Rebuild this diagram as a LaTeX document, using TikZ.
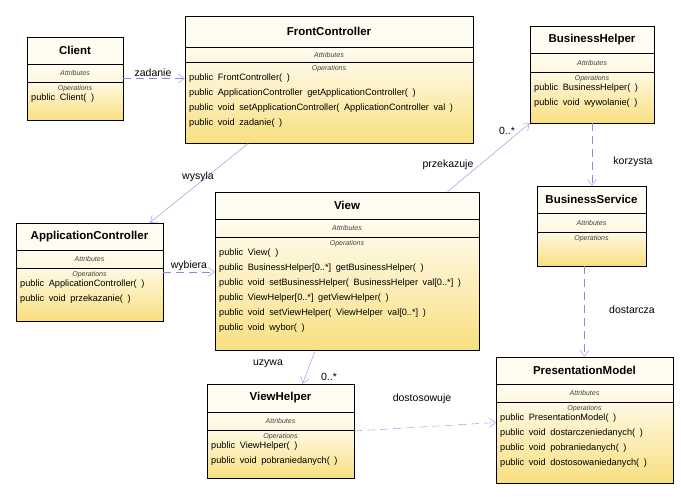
\documentclass[tikz,border=0pt]{standalone}
\usepackage{fontspec}
\setmainfont{Liberation Sans}
\newfontfamily\opfont[WordSpace=1.8]{Liberation Sans}
\usetikzlibrary{fit}
\usetikzlibrary{calc}
\usetikzlibrary{arrows.meta}
\definecolor{headcream}{RGB}{255,253,241}
\definecolor{attrcream}{RGB}{254,247,222}
\definecolor{opstop}{RGB}{255,249,228}
\definecolor{opsbottom}{RGB}{248,223,128}
\definecolor{linkblue}{RGB}{138,138,228}
\tikzstyle{classbox}=[draw, line width=0.8pt, inner sep=0pt]
\tikzstyle{classtitle}=[font=\bfseries\fontsize{11.5}{13}\selectfont]
\tikzstyle{partlabel}=[font=\itshape\fontsize{7}{8}\selectfont, text=black!75, inner sep=0pt]
\tikzstyle{opline}=[font=\opfont\fontsize{9.2}{10}\selectfont, inner sep=0pt, anchor=west]
\tikzstyle{link}=[draw=linkblue, thin, -{Straight Barb[length=6pt,width=9pt]}]
\tikzstyle{dep}=[link, dash pattern=on 8pt off 5pt]
\tikzstyle{linklabel}=[font=\fontsize{10.5}{12}\selectfont, inner sep=1pt]

% name, left, top, right, bottom, title rule, attribute rule, title, operations
\newcommand{\umlclass}[9]{%
  \fill[headcream] (#2,#3) rectangle (#4,#6);
  \shade[top color=headcream, bottom color=attrcream] (#2,#6) rectangle (#4,#7);
  \shade[top color=opstop, bottom color=opsbottom] (#2,#7) rectangle (#4,#5);
  \draw[line width=0.8pt] (#2,#6) -- (#4,#6);
  \draw[line width=0.8pt] (#2,#7) -- (#4,#7);
  \node[classbox, fit={(#2,#3) (#4,#5)}] (#1) {};
  \node[classtitle] (#1-title) at ({(#2+#4)/2},{(#3+#6)/2}) {#8};
  \node[partlabel] (#1-attr) at ({(#2+#4)/2},{(#6+#7)/2}) {Attributes};
  \node[partlabel] (#1-ops) at ({(#2+#4)/2},{#7+6.5}) {Operations};
  \foreach \opl [count=\k] in {#9} {
    \node[opline] (#1-op\k) at (#2+4,{#7+1.5+15*\k}) {\opl};
  }
}

\begin{document}
\begin{tikzpicture}[x=1pt, y=-1pt]
  \useasboundingbox (0,0) rectangle (681,499);

  \umlclass{client}{27}{37}{123}{120}{64}{82}{Client}
    {public Client( )}
  \umlclass{fc}{185}{16}{473}{143}{47}{62}{FrontController}
    {public FrontController( ),
     public ApplicationController getApplicationController( ),
     public void setApplicationController( ApplicationController val ),
     public void zadanie( )}
  \umlclass{bh}{530}{26}{654}{123}{53}{72}{BusinessHelper}
    {public BusinessHelper( ), public void wywolanie( )}
  \umlclass{ac}{16}{223}{163}{321}{250}{268}{ApplicationController}
    {public ApplicationController( ), public void przekazanie( )}
  \umlclass{view}{215}{192}{479}{350}{219}{237}{View}
    {public View( ),
     public BusinessHelper[0..*] getBusinessHelper( ),
     public void setBusinessHelper( BusinessHelper val[0..*] ),
     public ViewHelper[0..*] getViewHelper( ),
     public void setViewHelper( ViewHelper val[0..*] ),
     public void wybor( )}
  \umlclass{bs}{537}{186}{646}{266}{213}{232}{BusinessService}{}
  \umlclass{vh}{207}{384}{354}{478}{412}{430}{ViewHelper}
    {public ViewHelper( ), public void pobraniedanych( )}
  \umlclass{pm}{496}{357}{673}{483}{384}{402}{PresentationModel}
    {public PresentationModel( ),
     public void dostarczeniedanych( ),
     public void pobraniedanych( ),
     public void dostosowaniedanych( )}

  % connectors
  \draw[dep] (client.east) -- (client.east -| fc.west);
  \draw[link] ($(fc.south west)!0.22!(fc.south east)$)
    -- ($(ac.north west)!0.91!(ac.north east)$);
  \draw[dep] (ac.east) -- (ac.east -| view.west);
  \draw[link] ($(view.north west)!0.88!(view.north east)$) -- (bh.south west);
  \draw[dep] (bh.south) -- (bh.south |- bs.north);
  \draw[dep] (pm.north |- bs.south) -- (pm.north);
  \draw[link] ($(view.south west)!0.38!(view.south east)$)
    -- ($(vh.north west)!0.65!(vh.north east)$);
  \draw[dep] (vh.east) -- ($(pm.north west)!0.52!(pm.south west)$);

  % labels
  \node[linklabel] (zadanie) at (153,73) {zadanie};
  \node[linklabel] (wysyla) at (198,177) {wysyla};
  \node[linklabel] (wybiera) at (189,266) {wybiera};
  \node[linklabel] (przekazuje) at (448,165) {przekazuje};
  \node[linklabel] (bh-mult) at (507,131) {0..*};
  \node[linklabel] (korzysta) at (633,162) {korzysta};
  \node[linklabel] (dostarcza) at (632,310) {dostarcza};
  \node[linklabel] (uzywa) at (268,364) {uzywa};
  \node[linklabel] (vh-mult) at (329,377) {0..*};
  \node[linklabel] (dostosowuje) at (422,399) {dostosowuje};
\end{tikzpicture}
\end{document}
